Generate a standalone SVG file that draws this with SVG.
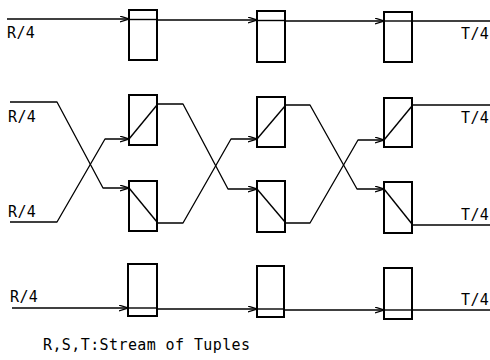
<svg xmlns="http://www.w3.org/2000/svg" width="490" height="360" viewBox="0 0 490 360">
  <style>
    .box { fill: #fff; stroke: #000; stroke-width: 2; }
    .inner { fill: none; stroke: #000; stroke-width: 1.4; }
    .wire { fill: none; stroke: #000; stroke-width: 1.3; stroke-linejoin: round; }
    .arr { marker-end: url(#chev); }
    .lbl { font-family: "DejaVu Sans Mono", "Liberation Mono", monospace; font-size: 15px; letter-spacing: 0.4px; fill: #000; }
  </style>
  <defs>
    <marker id="chev" viewBox="0 0 9 7" refX="9" refY="3.5" markerWidth="9" markerHeight="7" markerUnits="userSpaceOnUse" orient="auto">
      <path d="M0,0.5 L9,3.5 L0,6.5" fill="none" stroke="#000" stroke-width="1.2"/>
    </marker>
  </defs>

  <!-- connectors -->
  <g id="connectors">
    <!-- top row: straight pass-through -->
    <path class="wire arr" d="M7 19 H129"/>
    <path class="wire arr" d="M157 20 H257"/>
    <path class="wire arr" d="M285 21 H384"/>
    <path class="wire" d="M412 21 H490"/>

    <!-- middle: inputs crossing into stage 1 -->
    <path class="wire arr" d="M10 102 H57 L103 188 H129"/>
    <path class="wire arr" d="M10 222 H57 L105 139 H129"/>

    <!-- stage 1 to stage 2 -->
    <path class="wire arr" d="M157 104 H183 L228 189 H257"/>
    <path class="wire arr" d="M157 223 H183 L231 139 H257"/>

    <!-- stage 2 to stage 3 -->
    <path class="wire arr" d="M285 105 H310 L357 189 H384"/>
    <path class="wire arr" d="M285 223 H310 L358 140 H384"/>

    <!-- middle outputs -->
    <path class="wire" d="M412 105 H490"/>
    <path class="wire" d="M412 225 H490"/>

    <!-- bottom row: straight pass-through -->
    <path class="wire arr" d="M12 308 H128"/>
    <path class="wire arr" d="M157 309 H257"/>
    <path class="wire arr" d="M284 310 H384"/>
    <path class="wire" d="M412 310 H490"/>
  </g>

  <!-- top row nodes -->
  <g id="t1"><rect class="box" x="129" y="10" width="28" height="50"/><line class="inner" x1="129" y1="19.5" x2="157" y2="19.5"/></g>
  <g id="t2"><rect class="box" x="257" y="11" width="28" height="51"/><line class="inner" x1="257" y1="20.5" x2="285" y2="20.5"/></g>
  <g id="t3"><rect class="box" x="384" y="12" width="28" height="50"/><line class="inner" x1="384" y1="21" x2="412" y2="21"/></g>

  <!-- middle row nodes: upper switches -->
  <g id="m1u"><rect class="box" x="129" y="95" width="28" height="50"/><line class="inner" x1="129" y1="139" x2="157" y2="105"/></g>
  <g id="m2u"><rect class="box" x="257" y="97" width="28" height="50"/><line class="inner" x1="257" y1="139" x2="285" y2="106"/></g>
  <g id="m3u"><rect class="box" x="384" y="98" width="28" height="49"/><line class="inner" x1="384" y1="140" x2="412" y2="106"/></g>

  <!-- middle row nodes: lower switches -->
  <g id="m1l"><rect class="box" x="129" y="181" width="28" height="50"/><line class="inner" x1="129" y1="188" x2="157" y2="222"/></g>
  <g id="m2l"><rect class="box" x="257" y="181" width="28" height="51"/><line class="inner" x1="257" y1="189" x2="285" y2="222"/></g>
  <g id="m3l"><rect class="box" x="384" y="182" width="28" height="51"/><line class="inner" x1="384" y1="189" x2="412" y2="224"/></g>

  <!-- bottom row nodes -->
  <g id="b1"><rect class="box" x="128" y="264" width="29" height="52"/><line class="inner" x1="128" y1="308" x2="157" y2="308"/></g>
  <g id="b2"><rect class="box" x="257" y="266" width="27" height="51"/><line class="inner" x1="257" y1="309" x2="284" y2="309"/></g>
  <g id="b3"><rect class="box" x="384" y="268" width="28" height="51"/><line class="inner" x1="384" y1="310" x2="412" y2="310"/></g>

  <!-- labels -->
  <g id="labels">
    <text class="lbl" x="7" y="38">R/4</text>
    <text class="lbl" x="8" y="122">R/4</text>
    <text class="lbl" x="8" y="217">R/4</text>
    <text class="lbl" x="10" y="302">R/4</text>
    <text class="lbl" x="461" y="39">T/4</text>
    <text class="lbl" x="461" y="123">T/4</text>
    <text class="lbl" x="461" y="220">T/4</text>
    <text class="lbl" x="461" y="305">T/4</text>
    <text class="lbl" x="43" y="350">R,S,T:Stream of Tuples</text>
  </g>
</svg>
